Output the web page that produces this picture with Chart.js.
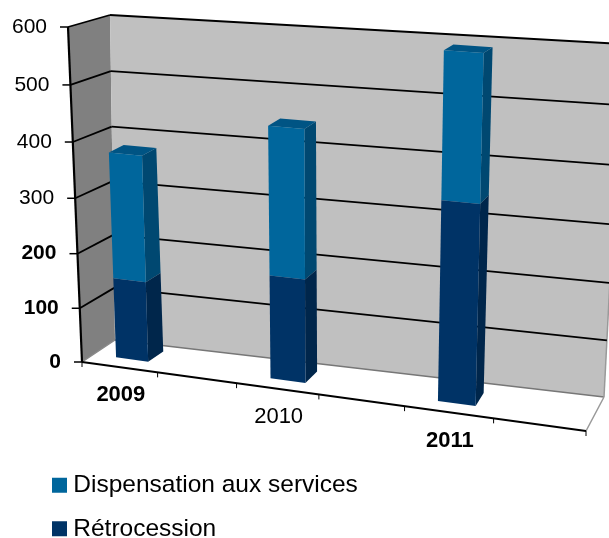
<!DOCTYPE html>
<html>
<head>
<meta charset="utf-8">
<title>Dispensation / Rétrocession</title>
<script src="https://cdn.jsdelivr.net/npm/chart.js@4"></script>
<style>
  html, body { margin: 0; padding: 0; background: #fff; overflow: hidden; }
  canvas { display: block; filter: blur(0.45px); }
</style>
</head>
<body>
<canvas id="chart" width="609" height="538"></canvas>
<script>
const categories = ['2009', '2010', '2011'];
const retrocession = [146, 184, 344];
const dispensation = [226, 259, 246];
const yMax = 600;
const yStep = 100;

const FONT = '"Liberation Sans", Arial, sans-serif';
const WALL_BACK = '#c0c0c0';
const WALL_LEFT = '#808080';
const COLORS = [
  { front: '#003366', side: '#00264b', top: '#00264b' },
  { front: '#00669c', side: '#004871', top: '#005484' }
];

// planes of the fake 3d box, pixels on the page
const frontPlane = { bl: [82, 362], br: [586, 431], tl: [68, 27], tr: [54, 62] };
const wallPlane = { bl: [115, 340], br: [604, 397], tl: [110, 15], tr: [622, 44] };
const barFront = { bl: [59, 349.6], br: [546, 415.6], tl: [44, 17.3], tr: [558, 51.8] };
const barRear = { bl: [76, 340.3], br: [552.5, 401.8], tl: [59, 11.3], tr: [566, 46.3] };

function lerp(a, b, t) {
  return [a[0] + (b[0] - a[0]) * t, a[1] + (b[1] - a[1]) * t];
}

function project(plane, u, v) {
  const a = u + 0.12 * u * (u - 1);
  const b = v - 0.045 * v * (1 - v);
  return lerp(lerp(plane.bl, plane.br, a), lerp(plane.tl, plane.tr, a), b);
}

function poly(ctx, points, fill) {
  ctx.beginPath();
  points.forEach((p, i) => i ? ctx.lineTo(p[0], p[1]) : ctx.moveTo(p[0], p[1]));
  ctx.closePath();
  ctx.fillStyle = fill;
  ctx.fill();
}

function line(ctx, a, b, color, width) {
  ctx.beginPath();
  ctx.moveTo(a[0], a[1]);
  ctx.lineTo(b[0], b[1]);
  ctx.strokeStyle = color;
  ctx.lineWidth = width;
  ctx.stroke();
}

const boxPlugin = {
  id: 'box',
  afterLayout(chart) {
    // the left legend is limited to half the width, its text needs more
    chart.legend.right = chart.width;
  },
  beforeDatasetsDraw(chart) {
    const ctx = chart.ctx;
    const yScale = chart.scales.y;
    const xScale = chart.scales.x;
    const area = chart.chartArea;
    ctx.save();

    poly(ctx, [project(frontPlane, 0, 1), project(wallPlane, 0, 1), project(wallPlane, 0, 0), project(frontPlane, 0, 0)], WALL_LEFT);
    poly(ctx, [project(wallPlane, 0, 1), project(wallPlane, 1, 1), project(wallPlane, 1, 0), project(wallPlane, 0, 0)], WALL_BACK);

    // floor edges
    line(ctx, project(frontPlane, 0, 0), project(wallPlane, 0, 0), '#8a8a8a', 1.5);
    line(ctx, project(wallPlane, 0, 0), project(wallPlane, 1, 0), '#777', 1.5);
    line(ctx, project(wallPlane, 1, 0), project(wallPlane, 1, 1), '#999', 1.5);
    line(ctx, project(frontPlane, 1, 0), project(wallPlane, 1, 0), '#999', 1.5);

    // grid and value labels
    ctx.textBaseline = 'middle';
    ctx.textAlign = 'right';
    yScale.ticks.forEach(t => {
      const v = (area.bottom - yScale.getPixelForValue(t.value)) / area.height;
      const f = project(frontPlane, 0, v);
      const w0 = project(wallPlane, 0, v);
      const w1 = project(wallPlane, 1, v);
      if (t.value > 0) {
        line(ctx, f, w0, '#000', 1.8);
        line(ctx, w0, w1, '#000', 1.8);
      }
      line(ctx, [f[0] - 8, f[1]], f, '#000', 1.5);
      ctx.fillStyle = '#000';
      ctx.font = (t.value <= 200 ? 'bold ' : '') + '21px ' + FONT;
      ctx.fillText(t.label, f[0] - 21, f[1]);
    });
    line(ctx, project(frontPlane, 0, 0), project(frontPlane, 0, 1), '#000', 2.2);

    // front floor edge with its ticks
    line(ctx, project(frontPlane, 0, 0), project(frontPlane, 1, 0), '#000', 1.8);
    for (let i = 0; i <= categories.length * 2; i++) {
      const p = project(frontPlane, i / (categories.length * 2), 0);
      line(ctx, p, [p[0], p[1] + 5], '#000', 1);
    }

    ctx.textAlign = 'center';
    xScale.getLabels().forEach((label, i) => {
      const u = (xScale.getPixelForValue(i) - area.left) / area.width;
      const p = project(frontPlane, u, 0);
      ctx.font = (i === 1 ? '' : 'bold ') + '22px ' + FONT;
      ctx.fillStyle = '#000';
      ctx.fillText(label, p[0] - 35 - 10.5 * u, p[1] + 23);
    });
    ctx.restore();
  },
  beforeDatasetDraw(chart, args) {
    const ctx = chart.ctx;
    const area = chart.chartArea;
    const colors = COLORS[args.index];
    const isTop = args.index === chart.data.datasets.length - 1;
    ctx.save();
    args.meta.data.forEach(bar => {
      const { x, y, base, width } = bar.getProps(['x', 'y', 'base', 'width'], true);
      const u0 = (x - width / 2 - area.left) / area.width;
      const u1 = (x + width / 2 - area.left) / area.width;
      const v0 = (area.bottom - base) / area.height;
      const v1 = (area.bottom - y) / area.height;
      poly(ctx, [project(barFront, u1, v0), project(barFront, u1, v1), project(barRear, u1, v1), project(barRear, u1, v0)], colors.side);
      if (isTop) poly(ctx, [project(barFront, u0, v1), project(barRear, u0, v1), project(barRear, u1, v1), project(barFront, u1, v1)], colors.top);
      poly(ctx, [project(barFront, u0, v0), project(barFront, u0, v1), project(barFront, u1, v1), project(barFront, u1, v0)], colors.front);
    });
    ctx.restore();
    return false;
  }
};

new Chart(document.getElementById('chart'), {
  type: 'bar',
  data: {
    labels: categories,
    datasets: [
      { label: 'Rétrocession', data: retrocession, backgroundColor: COLORS[0].front, borderWidth: 0 },
      { label: 'Dispensation aux services', data: dispensation, backgroundColor: COLORS[1].front, borderWidth: 0 }
    ]
  },
  options: {
    responsive: false,
    animation: false,
    barPercentage: 0.215,
    categoryPercentage: 1,
    layout: { padding: { left: 39, bottom: -22 } },
    scales: {
      x: { stacked: true, display: false },
      y: { stacked: true, display: false, min: 0, max: yMax, ticks: { stepSize: yStep } }
    },
    plugins: {
      tooltip: { enabled: false },
      legend: {
        position: 'left',
        align: 'end',
        reverse: true,
        labels: {
          usePointStyle: true,
          pointStyle: 'rect',
          boxWidth: 3,
          boxHeight: 15,
          padding: 19,
          color: '#000',
          font: { size: 24.5, family: FONT }
        }
      }
    }
  },
  plugins: [boxPlugin]
});
</script>
</body>
</html>
